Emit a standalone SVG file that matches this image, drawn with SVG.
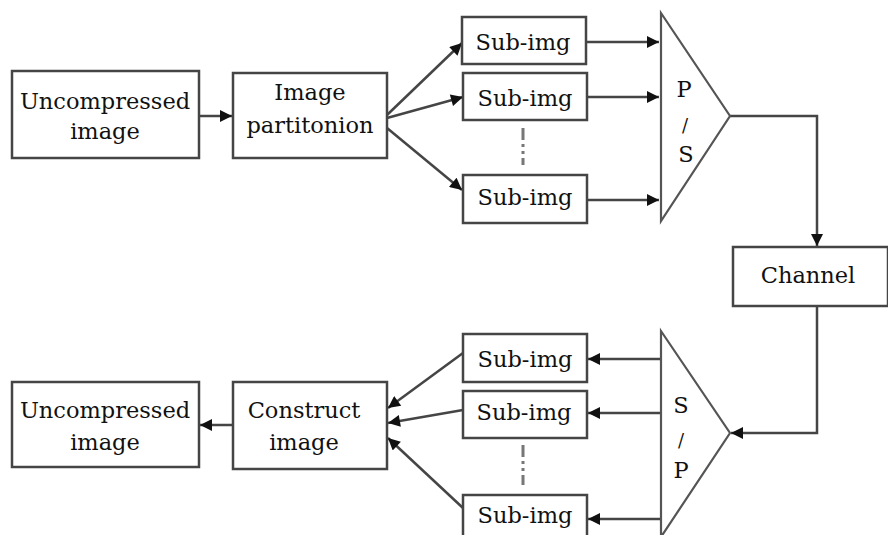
<svg xmlns="http://www.w3.org/2000/svg" width="888" height="535" viewBox="0 0 888 535">
<style>
.box{fill:#fff;stroke:#454545;stroke-width:2.5}
.tri{fill:#fff;stroke:#555;stroke-width:2.2}
.ln{fill:none;stroke:#454545;stroke-width:2.5}
.dot{fill:none;stroke:#777;stroke-width:3;stroke-dasharray:12 4 3 4 3 4}
.t{font-family:"DejaVu Serif",serif;font-size:22.5px;fill:#111;text-anchor:middle}
.sl{font-size:18px;font-weight:300}
</style>
<defs>
<marker id="ah" viewBox="0 0 10 10" refX="10" refY="5" markerWidth="5.5" markerHeight="4.8" orient="auto" markerUnits="strokeWidth">
<path d="M0,0 L10,5 L0,10 z" fill="#111"/>
</marker>
</defs>
<g id="connectors">
<line class="ln" x1="199" y1="116" x2="232" y2="116" marker-end="url(#ah)"/>
<line class="ln" x1="387" y1="115" x2="462" y2="43" marker-end="url(#ah)"/>
<line class="ln" x1="387" y1="118" x2="463" y2="97" marker-end="url(#ah)"/>
<line class="ln" x1="387" y1="128" x2="462" y2="190" marker-end="url(#ah)"/>
<line class="ln" x1="586" y1="42" x2="659" y2="42" marker-end="url(#ah)"/>
<line class="ln" x1="587" y1="97" x2="659" y2="97" marker-end="url(#ah)"/>
<line class="ln" x1="587" y1="200" x2="659" y2="200" marker-end="url(#ah)"/>
<polyline class="ln" points="730,116 817,116 817,246" marker-end="url(#ah)"/>
<polyline class="ln" points="817,306 817,433 731,433" marker-end="url(#ah)"/>
<line class="ln" x1="660" y1="359" x2="588" y2="359" marker-end="url(#ah)"/>
<line class="ln" x1="660" y1="413" x2="588" y2="413" marker-end="url(#ah)"/>
<line class="ln" x1="660" y1="519" x2="588" y2="519" marker-end="url(#ah)"/>
<line class="ln" x1="463" y1="353" x2="388" y2="408" marker-end="url(#ah)"/>
<line class="ln" x1="463" y1="410" x2="388" y2="423" marker-end="url(#ah)"/>
<line class="ln" x1="463" y1="508" x2="388" y2="438" marker-end="url(#ah)"/>
<line class="ln" x1="233" y1="425" x2="200" y2="425" marker-end="url(#ah)"/>
<line class="dot" x1="523" y1="128" x2="523" y2="165"/>
<line class="dot" x1="523" y1="445" x2="523" y2="485"/>
</g>
<g id="src-image">
<rect class="box" x="12" y="71" width="187" height="87"/>
<text class="t" x="105" y="109">Uncompressed</text>
<text class="t" x="105" y="139">image</text>
</g>
<g id="partition">
<rect class="box" x="233" y="73" width="154" height="85"/>
<text class="t" x="310" y="100">Image</text>
<text class="t" x="310" y="133">partitonion</text>
</g>
<g id="sub-top-1">
<rect class="box" x="462" y="17" width="124" height="47"/>
<text class="t" x="523" y="50">Sub-img</text>
</g>
<g id="sub-top-2">
<rect class="box" x="463" y="73" width="124" height="47"/>
<text class="t" x="525" y="106">Sub-img</text>
</g>
<g id="sub-top-3">
<rect class="box" x="463" y="175" width="124" height="48"/>
<text class="t" x="525" y="205">Sub-img</text>
</g>
<g id="ps">
<polygon class="tri" points="661,13 730,116 661,221"/>
<text class="t" x="684" y="97">P</text>
<text class="t sl" x="685" y="132">/</text>
<text class="t" x="686" y="162">S</text>
</g>
<g id="channel">
<rect class="box" x="733" y="247" width="155" height="59"/>
<text class="t" x="808" y="283">Channel</text>
</g>
<g id="sp">
<polygon class="tri" points="661,331 730,433 661,537"/>
<text class="t" x="681" y="413">S</text>
<text class="t sl" x="681" y="447">/</text>
<text class="t" x="681" y="478">P</text>
</g>
<g id="sub-bot-1">
<rect class="box" x="463" y="334" width="124" height="48"/>
<text class="t" x="525" y="367">Sub-img</text>
</g>
<g id="sub-bot-2">
<rect class="box" x="463" y="391" width="124" height="47"/>
<text class="t" x="524" y="420">Sub-img</text>
</g>
<g id="sub-bot-3">
<rect class="box" x="463" y="495" width="124" height="48"/>
<text class="t" x="525" y="523">Sub-img</text>
</g>
<g id="construct">
<rect class="box" x="233" y="382" width="154" height="87"/>
<text class="t" x="304" y="418">Construct</text>
<text class="t" x="304" y="450">image</text>
</g>
<g id="dst-image">
<rect class="box" x="12" y="382" width="187" height="85"/>
<text class="t" x="105" y="418">Uncompressed</text>
<text class="t" x="105" y="450">image</text>
</g>
</svg>
